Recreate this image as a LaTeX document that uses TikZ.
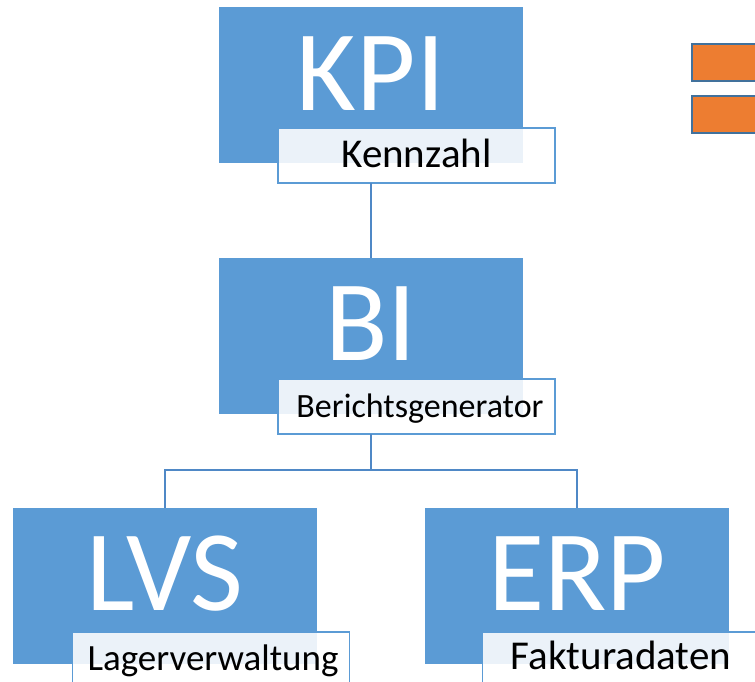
\documentclass[tikz,border=0pt]{standalone}
\usepackage{fontspec}
\setmainfont{Carlito}
\definecolor{boxblue}{HTML}{5B9BD5}
\definecolor{lineblue}{HTML}{4F88C6}
\definecolor{legorange}{HTML}{ED7D31}
\definecolor{legborder}{HTML}{41719C}
\begin{document}
\begin{tikzpicture}[x=1pt,y=-1pt,
  bigbox/.style={fill=boxblue,draw=none,minimum width=304pt,minimum height=156pt,inner sep=0pt,outer sep=0pt},
  bigtext/.style={text=white,anchor=base,inner sep=0pt,font=\fontsize{115}{115}\selectfont},
  labbox/.style={fill=white,fill opacity=0.88,draw=boxblue,draw opacity=1,line width=1.5pt,minimum width=277pt,minimum height=55pt,inner sep=0pt,outer sep=0pt},
  labtext/.style={text=black,anchor=base,inner sep=0pt},
  conn/.style={draw=lineblue,line width=1.5pt},
  legbox/.style={fill=legorange,draw=legborder,line width=2pt,minimum width=80pt,minimum height=37pt,inner sep=0pt,anchor=north west}]
\useasboundingbox (0,0) rectangle (755,681);
\clip (0,0) rectangle (755,681);
% legend fragments
\node[legbox] (leg1) at (691,43) {};
\node[legbox] (leg2) at (691,95) {};
% KPI
\node[bigbox] (kpi) at (371,85) {};
\node[bigtext] (kpit) at (371,110) {KPI};
% BI
\node[bigbox] (bi) at (371,335.5) {};
\node[bigtext] (bit) at (371,360) {BI};
% LVS
\node[bigbox] (lvs) at (165,586) {};
\node[bigtext] (lvst) at (165,610) {LVS};
% ERP
\node[bigbox] (erp) at (577,586) {};
\node[bigtext] (erpt) at (577,610) {ERP};
% labels
\node[labbox] (kpil) at (416.5,155.5) {};
\node[labtext,font=\fontsize{41}{41}\selectfont] (kpilt) at (416.5,167) {Kennzahl};
\node[labbox] (bil) at (416.5,406.5) {};
\node[labtext,font=\fontsize{34}{34}\selectfont] (bilt) at (420,417) {Berichtsgenerator};
\node[labbox] (lvsl) at (211,659.5) {};
\node[labtext,font=\fontsize{37}{37}\selectfont] (lvslt) at (213,670) {Lagerverwaltung};
\node[labbox] (erpl) at (621,659.5) {};
\node[labtext,font=\fontsize{41}{41}\selectfont] (erplt) at (621,669) {Fakturadaten};
% connectors
\coordinate (split) at (371,470);
\draw[conn] (kpi.center |- kpil.south) -- (bi.north);
\draw[conn] (bi.center |- bil.south) -- (split);
\draw[conn] (split) -| (lvs.north);
\draw[conn] (split) -| (erp.north);
\end{tikzpicture}
\end{document}
